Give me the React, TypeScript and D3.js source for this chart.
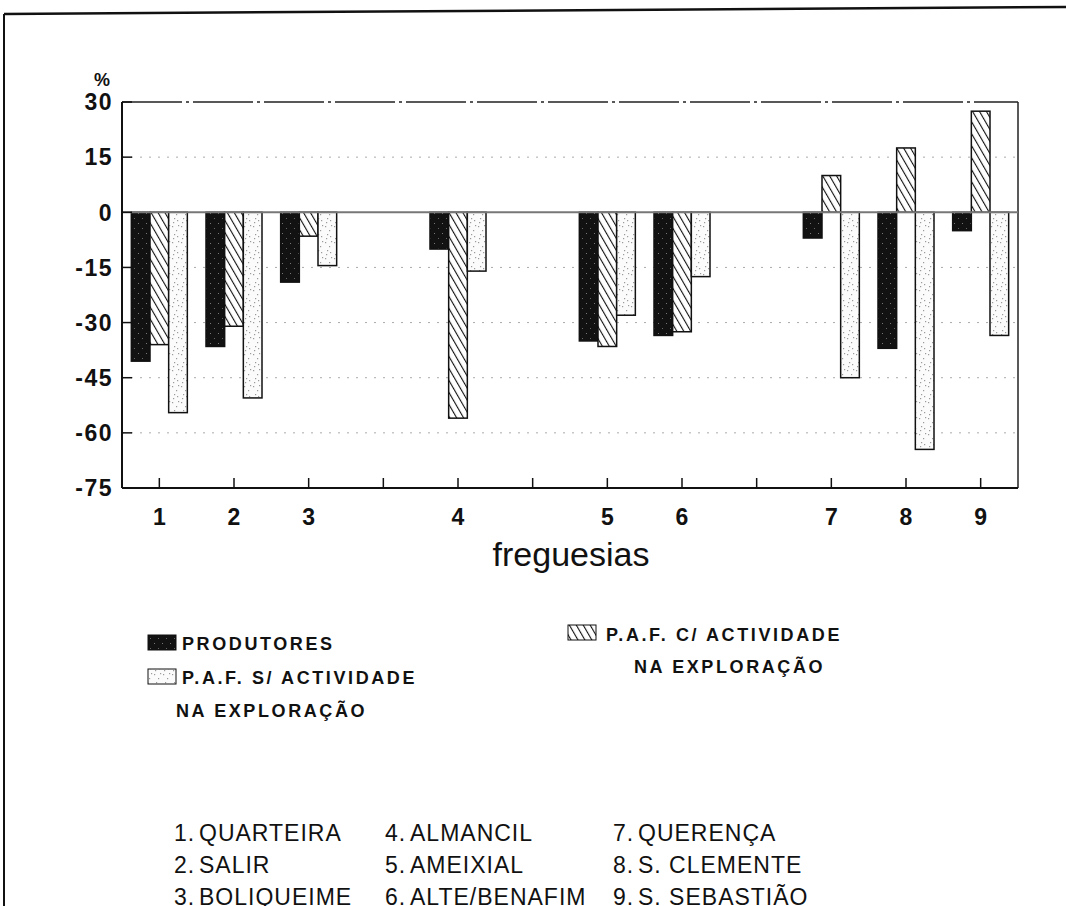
import React from "react";
import * as d3 from "d3";

// ---- data ----
const slotLabels = ["1", "2", "3", "", "4", "", "5", "6", "", "7", "8", "9"];
const categories = ["1", "2", "3", "4", "5", "6", "7", "8", "9"];
const categorySlot = [0, 1, 2, 4, 6, 7, 9, 10, 11];
const seriesNames = ["PRODUTORES", "P.A.F. C/ ACTIVIDADE", "P.A.F. S/ ACTIVIDADE"];
const produtores = [-40.5, -36.5, -19, -10, -35, -33.5, -7, -37, -5];
const pafCom = [-36, -31, -6.5, -56, -36.5, -32.5, 10, 17.5, 27.5];
const pafSem = [-54.5, -50.5, -14.5, -16, -28, -17.5, -45, -64.5, -33.5];
const yTicks = [30, 15, 0, -15, -30, -45, -60, -75];
const gridValues = [15, -15, -30, -45, -60];
const freguesias = [
  "QUARTEIRA", "SALIR", "BOLIQUEIME",
  "ALMANCIL", "AMEIXIAL", "ALTE/BENAFIM",
  "QUERENÇA", "S. CLEMENTE", "S. SEBASTIÃO",
];

const W = 1066;
const H = 906;
const plotL = 122;
const plotR = 1018;
const plotT = 102;
const plotB = 488;

const fills = ["url(#pBlack)", "url(#pHatch)", "url(#pDots)"];
const FONT = "'Liberation Sans', Arial, Helvetica, sans-serif";

export default function App() {
  const x = d3.scaleBand<number>().domain(d3.range(slotLabels.length)).range([plotL, plotR]).padding(0);
  const bw = x.bandwidth();
  const sub = d3.scaleBand<number>().domain([0, 1, 2]).range([0, (bw * 3) / 4]);
  const y = d3.scaleLinear().domain([-75, 30]).range([plotB, plotT]);
  const series = [produtores, pafCom, pafSem];

  const dotPts: [number, number][] = [
    [1, 2], [5, 6], [3, 10], [7, 1], [2, 14], [6, 12],
  ];

  return (
    <svg width={W} height={H} style={{ display: "block", position: "absolute", left: 0, top: 0 }}>
      <defs>
        <pattern id="pBlack" width="8" height="10" patternUnits="userSpaceOnUse">
          <rect width="8" height="10" fill="#121212" />
          <rect x="2" y="3" width="1" height="1" fill="#777" />
          <rect x="6" y="8" width="1" height="1" fill="#666" />
        </pattern>
        <pattern id="pHatch" width="6" height="6" patternUnits="userSpaceOnUse" patternTransform="rotate(-30)">
          <rect width="6" height="6" fill="#fff" />
          <line x1="0" y1="0" x2="0" y2="6" stroke="#111" strokeWidth="2.2" />
        </pattern>
        <pattern id="pDots" width="9" height="16" patternUnits="userSpaceOnUse">
          <rect width="9" height="16" fill="#fbfbfb" />
          {dotPts.map((p, i) => (
            <rect key={i} x={p[0]} y={p[1]} width="1.2" height="1.2" fill="#9a9a9a" />
          ))}
        </pattern>
      </defs>

      <rect width={W} height={H} fill="#fff" />
      {/* outer frame */}
      <line x1={4} y1={14} x2={W} y2={7} stroke="#111" strokeWidth={2.5} />
      <line x1={4} y1={14} x2={4} y2={H} stroke="#111" strokeWidth={2} />

      {/* grid */}
      {gridValues.map((v) => (
        <line key={v} x1={plotL} x2={plotR} y1={y(v)} y2={y(v)} stroke="#aaa" strokeWidth={1} strokeDasharray="2 7" />
      ))}
      {/* plot box top & right */}
      <line x1={plotL} x2={plotR} y1={y(30)} y2={y(30)} stroke="#222" strokeWidth={1.4} strokeDasharray="60 4 3 4" />
      <line x1={plotR} x2={plotR} y1={y(30)} y2={plotB} stroke="#222" strokeWidth={1.5} />

      {/* bars */}
      {categories.map((c, ci) => {
        const gx = (x(categorySlot[ci]) as number) + bw / 8;
        return (
          <g key={c}>
            {series.map((s, si) => {
              const v = s[ci];
              const y0 = y(Math.max(0, v));
              const y1 = y(Math.min(0, v));
              return (
                <rect
                  key={si}
                  x={gx + (sub(si) as number)}
                  y={y0}
                  width={sub.bandwidth()}
                  height={y1 - y0}
                  fill={fills[si]}
                  stroke="#111"
                  strokeWidth={1.5}
                />
              );
            })}
          </g>
        );
      })}

      {/* zero line */}
      <line x1={plotL} x2={plotR} y1={y(0)} y2={y(0)} stroke="#777" strokeWidth={2} />

      {/* axes */}
      <line x1={plotL} x2={plotL} y1={y(30)} y2={plotB} stroke="#111" strokeWidth={2} />
      <line x1={plotL} x2={plotR} y1={plotB} y2={plotB} stroke="#111" strokeWidth={2} />
      {yTicks.map((t) => (
        <g key={t}>
          <line x1={plotL} x2={plotL + 10} y1={y(t)} y2={y(t)} stroke="#111" strokeWidth={1.5} />
          <text x={113} y={y(t)} dy="0.36em" textAnchor="end" fontFamily={FONT} fontWeight="bold" fontSize={23} fill="#111" letterSpacing={1.5}>
            {t}
          </text>
        </g>
      ))}
      <text x={94} y={86} fontFamily={FONT} fontWeight="bold" fontSize={18} fill="#111">%</text>

      {slotLabels.map((l, i) => {
        const cx = (x(i) as number) + bw / 2;
        return (
          <g key={i}>
            <line x1={cx} x2={cx} y1={plotB} y2={plotB - 10} stroke="#111" strokeWidth={1.5} />
            {l && (
              <text x={cx} y={525} textAnchor="middle" fontFamily={FONT} fontWeight="bold" fontSize={23} fill="#111">
                {l}
              </text>
            )}
          </g>
        );
      })}
      <text x={571} y={566} textAnchor="middle" fontFamily={FONT} fontSize={34} fill="#111">freguesias</text>

      {/* legend */}
      <g fontFamily={FONT} fontWeight="bold" fontSize={18} fill="#111" letterSpacing={2.6}>
        <rect x={148} y={635} width={28} height={15} fill={fills[0]} stroke="#111" strokeWidth={1} />
        <text x={182} y={650}>{seriesNames[0]}</text>
        <rect x={148} y={669} width={28} height={15} fill={fills[2]} stroke="#111" strokeWidth={1} />
        <text x={182} y={684}>{seriesNames[2]}</text>
        <text x={176} y={717}>NA EXPLORAÇÃO</text>
        <rect x={568} y={625} width={28} height={15} fill={fills[1]} stroke="#111" strokeWidth={1} />
        <text x={606} y={641}>{seriesNames[1]}</text>
        <text x={634} y={673}>NA EXPLORAÇÃO</text>
      </g>

      {/* freguesias list */}
      <g fontFamily={FONT} fontSize={23} fill="#111" letterSpacing={1}>
        {freguesias.map((f, i) => {
          const col = Math.floor(i / 3);
          const row = i % 3;
          const cx = [174, 385, 613][col];
          const cy = 841 + row * 32;
          return (
            <g key={f}>
              <text x={cx} y={cy}>{`${categories[i]}.`}</text>
              <text x={cx + 25} y={cy}>{f}</text>
            </g>
          );
        })}
      </g>
    </svg>
  );
}
